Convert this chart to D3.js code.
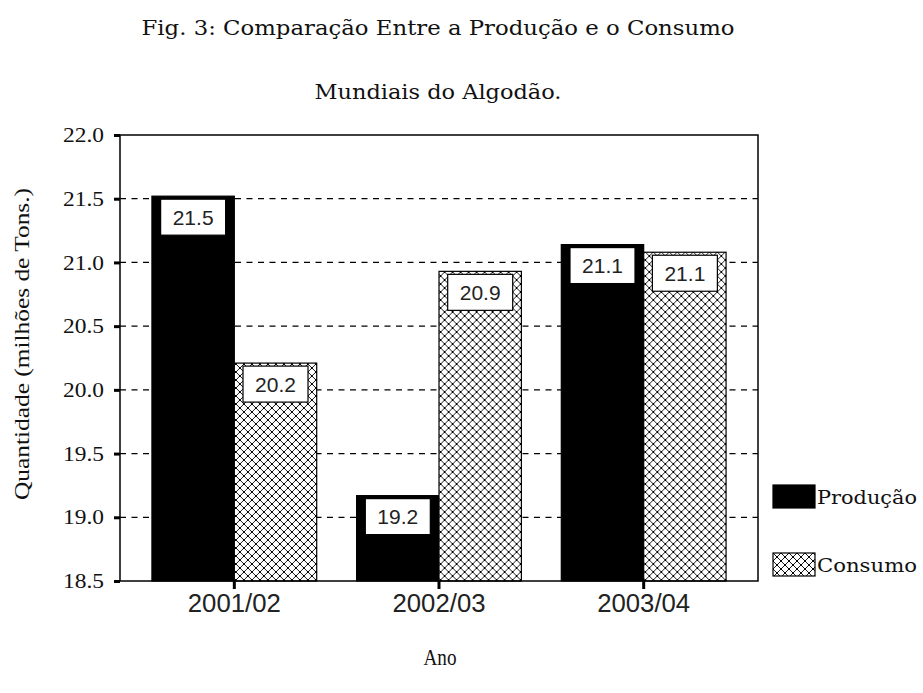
<!DOCTYPE html>
<html>
<head>
<meta charset="utf-8">
<script src="https://cdn.jsdelivr.net/npm/d3@7"></script>
<style>
  html, body { margin: 0; padding: 0; background: #fff; }
  svg { display: block; }
</style>
</head>
<body>
<svg id="chart" width="923" height="693"></svg>
<script>
// ---- data ----
const categories = ["2001/02", "2002/03", "2003/04"];
const seriesNames = ["Produção", "Consumo"];
const producao = [21.52, 19.17, 21.14];
const consumo = [20.21, 20.93, 21.08];
const yTicks = [18.5, 19.0, 19.5, 20.0, 20.5, 21.0, 21.5, 22.0];
const titleLines = ["Fig. 3: Comparação Entre a Produção e o Consumo", "Mundiais do Algodão."];
const yTitle = "Quantidade (milhões de Tons.)";
const xTitle = "Ano";

const SERIF = '"Liberation Serif"';
const SLAB = '"DejaVu Serif"';
const SANS = '"Liberation Sans"';

const rows = categories.map((c, i) => ({ cat: c, values: [producao[i], consumo[i]] }));

const svg = d3.select("#chart");
const m = { left: 120, right: 758, top: 135, bottom: 581 };

// pattern
const defs = svg.append("defs");
const pat = defs.append("pattern").attr("id", "hatch").attr("patternUnits", "userSpaceOnUse")
  .attr("width", 8).attr("height", 8);
pat.append("rect").attr("width", 8).attr("height", 8).attr("fill", "#fff");
pat.append("path").attr("d", "M0,0L8,8M8,0L0,8M-1,7L1,9M7,-1L9,1").attr("stroke", "#000").attr("stroke-width", 0.9).attr("fill", "none");
[[3,3],[-1,-1],[7,-1],[-1,7],[7,7]].forEach(p =>
  pat.append("rect").attr("x", p[0]).attr("y", p[1]).attr("width", 2).attr("height", 2).attr("fill", "#000"));

const fills = ["#000", "url(#hatch)"];

// scales
const x0 = d3.scaleBand().domain(categories).range([m.left, m.right])
  .paddingInner(0.195).paddingOuter(0.156);
const x1 = d3.scaleBand().domain(seriesNames).range([0, x0.bandwidth()]).padding(0);
const y = d3.scaleLinear().domain([18.5, 22]).range([m.bottom, m.top]);

// title
svg.selectAll("text.title").data(titleLines).join("text")
  .attr("class", "title")
  .attr("x", 438).attr("y", (d, i) => 35 + i * 64)
  .attr("text-anchor", "middle")
  .style("font-family", SLAB).style("font-size", "21px")
  .attr("fill", "#111")
  .attr("textLength", (d, i) => i === 0 ? 593 : 247)
  .attr("lengthAdjust", "spacingAndGlyphs")
  .text(d => d);

// grid lines
svg.append("g").selectAll("line").data(yTicks.filter(v => v > 18.5 && v < 22)).join("line")
  .attr("x1", m.left).attr("x2", m.right)
  .attr("y1", d => y(d)).attr("y2", d => y(d))
  .attr("stroke", "#000").attr("stroke-width", 1.3)
  .attr("stroke-dasharray", "6,5.5");

// bars
const groups = svg.append("g").selectAll("g").data(rows).join("g")
  .attr("transform", d => `translate(${x0(d.cat)},0)`);

groups.selectAll("rect.bar").data(d => d.values.map((v, i) => ({ v, s: seriesNames[i], i })))
  .join("rect").attr("class", "bar")
  .attr("x", d => x1(d.s)).attr("width", x1.bandwidth())
  .attr("y", d => y(d.v)).attr("height", d => y(18.5) - y(d.v))
  .attr("fill", d => fills[d.i]).attr("stroke", "#000").attr("stroke-width", 1.2);

// value labels
const fmt = d3.format(".1f");
const lab = groups.selectAll("g.lab").data(d => d.values.map((v, i) => ({ v, s: seriesNames[i], i })))
  .join("g").attr("class", "lab")
  .attr("transform", d => `translate(${x1(d.s) + x1.bandwidth() / 2},${y(d.v) + 3})`);
lab.append("rect").attr("x", -32.5).attr("y", 0).attr("width", 65).attr("height", 36)
  .attr("fill", "#fff").attr("stroke", "#000").attr("stroke-width", 1.2);
lab.append("text").attr("x", 0).attr("y", 18).attr("dy", "0.36em")
  .attr("text-anchor", "middle")
  .style("font-family", SANS).style("font-size", "21px").attr("fill", "#222").text(d => fmt(d.v));

// frame
svg.append("rect").attr("x", m.left).attr("y", m.top)
  .attr("width", m.right - m.left).attr("height", m.bottom - m.top)
  .attr("fill", "none").attr("stroke", "#000").attr("stroke-width", 1.5);

// y axis
const yAxis = svg.append("g").attr("transform", `translate(${m.left},0)`)
  .call(d3.axisLeft(y).tickValues(yTicks).tickFormat(d3.format(".1f")).tickSize(6).tickPadding(10));
yAxis.select(".domain").remove();
yAxis.selectAll(".tick line").attr("stroke", "#000").attr("stroke-width", 3);
yAxis.selectAll(".tick text")
  .style("font-family", SERIF).style("font-size", "22px").attr("fill", "#111").attr("dy", "0.3em")
  .attr("textLength", 41).attr("lengthAdjust", "spacingAndGlyphs");

// x axis
const xAxis = svg.append("g").attr("transform", `translate(0,${m.bottom})`)
  .call(d3.axisBottom(x0).tickSize(8).tickPadding(5));
xAxis.select(".domain").remove();
xAxis.selectAll(".tick line").attr("stroke", "#000").attr("stroke-width", 3);
xAxis.selectAll(".tick text")
  .style("font-family", SANS).style("font-size", "25px").attr("fill", "#222")
  .attr("textLength", 93).attr("lengthAdjust", "spacingAndGlyphs");

// axis titles
svg.append("text").attr("transform", "translate(29,344) rotate(-90)")
  .attr("text-anchor", "middle")
  .style("font-family", SERIF).style("font-size", "22px").attr("fill", "#111")
  .attr("textLength", 312).attr("lengthAdjust", "spacingAndGlyphs")
  .text(yTitle);
svg.append("text").attr("x", 440).attr("y", 665)
  .attr("text-anchor", "middle")
  .style("font-family", SERIF).style("font-size", "24px").attr("fill", "#111")
  .attr("textLength", 33).attr("lengthAdjust", "spacingAndGlyphs")
  .text(xTitle);

// legend
const leg = svg.append("g").selectAll("g").data(seriesNames).join("g")
  .attr("transform", (d, i) => `translate(773,${485 + i * 68})`);
leg.append("rect").attr("width", 42).attr("height", 23)
  .attr("fill", (d, i) => fills[i]).attr("stroke", "#000").attr("stroke-width", 1.2);
leg.append("text").attr("x", 44).attr("y", 19)
  .style("font-family", SLAB).style("font-size", "19px").attr("fill", "#111")
  .attr("textLength", 100).attr("lengthAdjust", "spacingAndGlyphs")
  .text(d => d);
</script>
</body>
</html>
